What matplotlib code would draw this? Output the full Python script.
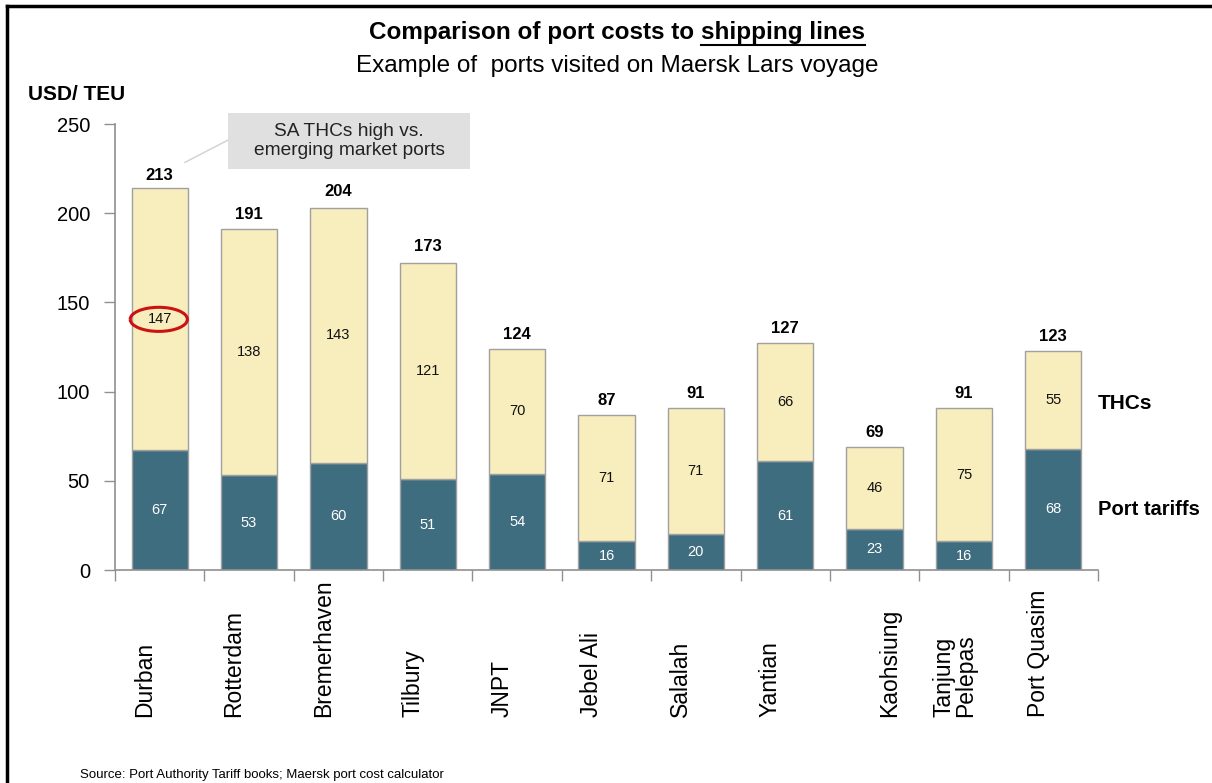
import matplotlib
matplotlib.use("Agg")
import matplotlib.pyplot as plt
from matplotlib.patches import Rectangle, Arc
from matplotlib.lines import Line2D
import matplotlib.transforms as mtransforms
import numpy as np

plt.rcParams['font.family'] = ['Liberation Sans', 'DejaVu Sans']

# port cost data, USD per TEU
ports = ['Durban', 'Rotterdam', 'Bremerhaven', 'Tilbury', 'JNPT', 'Jebel Ali',
         'Salalah', 'Yantian', 'Kaohsiung', 'Tanjung\nPelepas', 'Port Quasim']
port_tariffs = [67, 53, 60, 51, 54, 16, 20, 61, 23, 16, 68]
thcs = [147, 138, 143, 121, 70, 71, 71, 66, 46, 75, 55]
totals = [213, 191, 204, 173, 124, 87, 91, 127, 69, 91, 123]
yticks = [0, 50, 100, 150, 200, 250]

teal = '#3F6D80'
cream = '#F8EDBC'
edge = '#A0A0A0'

fig = plt.figure(figsize=(12.12, 7.83), dpi=100)
ax = fig.add_axes([115/1212, 213/783, (1098-115)/1212, (659-213)/783])

x = np.arange(len(ports))
w = 0.63
ax.bar(x, port_tariffs, width=w, color=teal, edgecolor=edge, linewidth=1)
ax.bar(x, thcs, width=w, bottom=port_tariffs, color=cream, edgecolor=edge, linewidth=1)

for i in range(len(ports)):
    ax.text(x[i], port_tariffs[i] / 2, str(port_tariffs[i]), ha='center', va='center',
            fontsize=10.5, color='white')
    ax.text(x[i], port_tariffs[i] + thcs[i] / 2, str(thcs[i]), ha='center', va='center',
            fontsize=10.5, color='#111111')
    ax.annotate(str(totals[i]), (x[i], totals[i]), xytext=(0, 5), textcoords='offset points',
                ha='center', va='bottom', fontsize=12, fontweight='bold')

ax.set_xlim(-0.5, len(ports) - 0.5)
ax.set_ylim(0, 250)
ax.set_yticks(yticks)
ax.tick_params(axis='y', labelsize=14.5, length=8, width=1, color='#909090', pad=10)
ax.set_xticks(np.arange(len(ports) + 1) - 0.5)
ax.set_xticklabels([])
ax.tick_params(axis='x', length=8, width=1, color='#909090')
for s in ['top', 'right']:
    ax.spines[s].set_visible(False)
for s in ['left', 'bottom']:
    ax.spines[s].set_color('#909090')
    ax.spines[s].set_linewidth(1.2)

# rotated port names, bottoms lined up
name_shift = [-0.17] * len(ports)
name_shift[8] = 0.17
name_shift[9] = -0.1
trans = mtransforms.blended_transform_factory(ax.transData, fig.transFigure)
for i, name in enumerate(ports):
    ax.text(x[i] + name_shift[i], 66/783, name, transform=trans, rotation=90,
            ha='center', va='bottom', multialignment='left', fontsize=16.5,
            linespacing=0.95)

# series labels on the right
ax.text(1.0, (port_tariffs[-1] + thcs[-1] / 2 - 2) / 250, 'THCs', transform=ax.transAxes,
        ha='left', va='center', fontsize=15, fontweight='bold')
ax.text(1.0, (port_tariffs[-1] / 2) / 250, 'Port tariffs', transform=ax.transAxes,
        ha='left', va='center', fontsize=14.5, fontweight='bold')

# callout box with connector
ax.add_patch(Rectangle((0.765, 225), 2.705, 31, facecolor='#E0E0E0', edgecolor='none',
                       clip_on=False, zorder=3))
ax.text(2.12, 240.5, 'SA THCs high vs.\nemerging market ports', ha='center', va='center',
        fontsize=13.8, color='#222222', zorder=4, linespacing=1.2)
ax.add_line(Line2D([0.283, 0.765], [228.5, 241], color='#D0D0D0', lw=1, clip_on=False))

# red ring round the Durban THC figure
ax.add_patch(Arc((x[0] - 0.01, port_tariffs[0] + thcs[0] / 2), 0.64, 13.5, theta1=205,
                 theta2=560, color='#CC1111', lw=2.2, zorder=5))

# headline with underlined part
yt = 1 - 33/783
t1 = fig.text(0.5, yt, 'Comparison of port costs to ', ha='right', va='center',
              fontsize=17.5, fontweight='bold')
t2 = fig.text(0.5, yt, 'shipping lines', ha='left', va='center',
              fontsize=17.5, fontweight='bold')
fig.canvas.draw()
bb1 = t1.get_window_extent()
bb2 = t2.get_window_extent()
total_w = (bb1.x1 - bb1.x0) + (bb2.x1 - bb2.x0)
dx = (617 - (bb1.x0 + total_w / 2)) / 1212
t1.set_x(0.5 + dx)
t2.set_x(0.5 + dx)
fig.canvas.draw()
bb2 = t2.get_window_extent()
fig.add_artist(Line2D([bb2.x0 / 1212, bb2.x1 / 1212], [(bb2.y0 - 0.5) / 783] * 2,
                      color='black', lw=1.5))

fig.text(617/1212, 1 - 66/783, 'Example of  ports visited on Maersk Lars voyage',
         ha='center', va='center', fontsize=17.5)
fig.text(28/1212, 1 - 95/783, 'USD/ TEU', ha='left', va='center', fontsize=15,
         fontweight='bold')
fig.text(80/1212, 1 - 775/783, 'Source: Port Authority Tariff books; Maersk port cost calculator',
         ha='left', va='center', fontsize=9.5)

# frame edges
fig.add_artist(Line2D([7/1212, 1], [1 - 6/783] * 2, color='black', lw=2.5))
fig.add_artist(Line2D([7/1212] * 2, [0, 1 - 6/783], color='black', lw=2.5))

fig.savefig('out.png', dpi=100)
